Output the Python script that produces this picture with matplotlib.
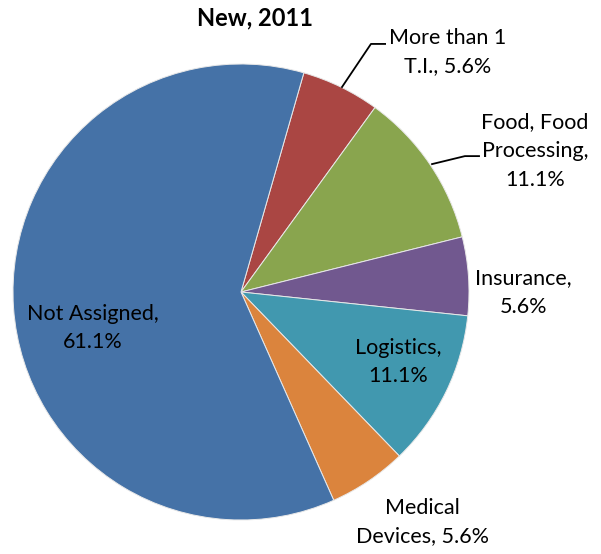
import matplotlib
matplotlib.use("Agg")
import matplotlib.pyplot as plt

plt.rcParams['font.family'] = ['Lato', 'DejaVu Sans']

categories = ["More than 1 T.I.", "Food, Food Processing", "Insurance", "Logistics",
              "Medical Devices", "Not Assigned"]
counts = [1, 2, 1, 2, 1, 11]
colors = ["#AA4643", "#89A54E", "#71588F", "#4198AF", "#DB843D", "#4572A7"]

# how Excel wrapped each label
label_fmt = ["More than 1\nT.I., {}", "Food, Food\nProcessing,\n{}", "Insurance,\n{}",
             "Logistics,\n{}", "Medical\nDevices, {}", "Not Assigned,\n{}"]

# label centres (data coords, pie radius = 1) and leader lines, tuned by eye
label_pos = [(0.905, 1.053), (1.289, 0.618), (1.237, -0.004), (0.689, -0.307),
             (0.794, -1.009), (-0.649, -0.158)]
leaders = {0: [(0.632, 1.088), (0.570, 1.088), (0.443, 0.899)],
           1: [(1.044, 0.596), (0.982, 0.596), (0.838, 0.561)]}

fig = plt.figure(figsize=(6.01, 5.54), dpi=100)
ax = fig.add_axes([13 / 601, 34 / 554, 456 / 601, 456 / 554])

total = sum(counts)
wedges, _ = ax.pie(counts, colors=colors, startangle=74, counterclock=False, radius=1,
                   wedgeprops=dict(edgecolor="#e8e8e8", linewidth=0.7))
ax.set_xlim(-1, 1)
ax.set_ylim(-1, 1)
ax.set_aspect("equal")
ax.axis("off")

for i, n in enumerate(counts):
    txt = label_fmt[i].format(f"{100 * n / total:.1f}%")
    x, y = label_pos[i]
    ax.text(x, y, txt, ha="center", va="center", fontsize=15.5, linespacing=1.55,
            color="black", clip_on=False)
    if i in leaders:
        xs, ys = zip(*leaders[i])
        ax.plot(xs, ys, color="black", lw=1.3, clip_on=False)

fig.text(255 / 601, 1 - 18 / 554, "New, 2011", ha="center", va="center",
         fontsize=17, fontweight="bold")

fig.savefig("out.png", dpi=100)
